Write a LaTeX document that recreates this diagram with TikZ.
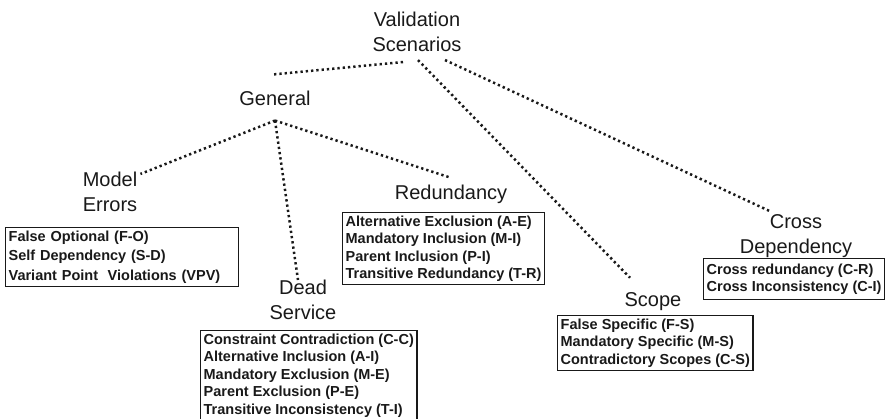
\documentclass[tikz,border=0pt]{standalone}
\usepackage{fontspec}
\setmainfont{Liberation Sans}
\usepackage{tikz}
\definecolor{ink}{RGB}{25,25,25}

\begin{document}
\begin{tikzpicture}[x=1pt,y=-1pt,
  titre/.style={inner sep=0pt, align=center, text=ink, font=\fontsize{20}{25}\selectfont},
  liste/.style={draw=ink, line width=1.3pt, anchor=north west, align=left, text=ink,
    inner xsep=3pt, inner ysep=3pt, font=\bfseries\fontsize{14.5}{17.5}\selectfont},
  lien/.style={draw=ink, line width=2.5pt, dash pattern=on 2.3pt off 3pt}]
\useasboundingbox (0,0) rectangle (891,418);

% the tree labels
\node[titre] (root) at (417,32) {Validation\\Scenarios};
\node[titre] (general) at (275,98) {General};
\node[titre] (model) at (110,192) {Model\\Errors};
\node[titre] (dead) at (303,300) {Dead\\Service};
\node[titre] (redund) at (451,194) {Redundancy};
\node[titre] (scope) at (653,302) {Scope};
\node[titre] (cross) at (796,236) {Cross\\Dependency};

% the lists of checks
\node[liste, font=\bfseries\fontsize{14.5}{19.5}\selectfont, text width=227pt] (modelbox) at (5,227)
  {False Optional (F-O)\\Self Dependency (S-D)\\Variant Point\ \ Violations (VPV)};
\node[liste] (deadbox) at (200,330)
  {Constraint Contradiction (C-C)\\Alternative Inclusion (A-I)\\Mandatory Exclusion (M-E)\\Parent Exclusion (P-E)\\Transitive Inconsistency (T-I)};
\node[liste] (redundbox) at (342,212)
  {Alternative Exclusion (A-E)\\Mandatory Inclusion (M-I)\\Parent Inclusion (P-I)\\Transitive Redundancy (T-R)};
\node[liste] (scopebox) at (557,315)
  {False Specific (F-S)\\Mandatory Specific (M-S)\\Contradictory Scopes (C-S)};
\node[liste, inner ysep=5pt] (crossbox) at (703,258)
  {Cross redundancy (C-R)\\Cross Inconsistency (C-I)};

% dotted links
\draw[lien] ([xshift=-14pt,yshift=-10pt]root.south) -- ([xshift=-2pt,yshift=16pt]general.north);
\draw[lien] ([xshift=1pt,yshift=-8pt]root.south) -- ([xshift=-23pt,yshift=15pt]scope.north);
\draw[lien] ([xshift=28pt,yshift=-8pt]root.south) -- ([xshift=-26pt,yshift=3pt]cross.north);
\draw[lien] ([yshift=-15pt]general.south) -- ([xshift=3pt,yshift=-2pt]model.north east);
\draw[lien] ([yshift=-15pt]general.south) -- ([xshift=-5pt]dead.north);
\draw[lien] ([yshift=-15pt]general.south) -- ([xshift=-1pt,yshift=7pt]redund.north);
\end{tikzpicture}
\end{document}
